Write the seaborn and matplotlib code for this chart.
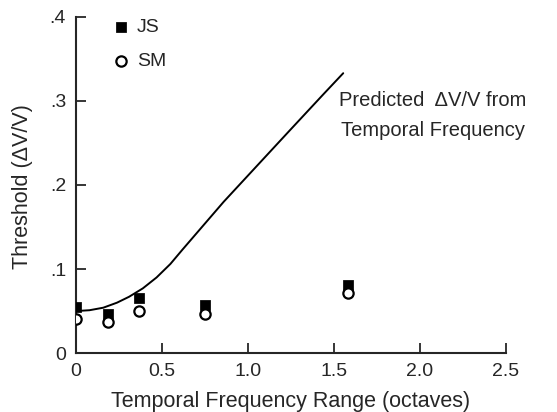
import numpy as np
import pandas as pd
import seaborn as sns
import matplotlib.pyplot as plt

# frequency range in octaves for each condition
octaves = [0.0, 0.19, 0.37, 0.75, 1.58]
js_thresh = [0.055, 0.046, 0.066, 0.057, 0.081]
sm_thresh = [0.041, 0.037, 0.050, 0.047, 0.072]

# predicted curve
pred_x = [0.0, 0.08, 0.16, 0.24, 0.31, 0.39, 0.47, 0.55, 0.62, 0.70, 0.78, 0.86,
          1.05, 1.24, 1.44, 1.555]
pred_y = [0.050, 0.051, 0.054, 0.060, 0.067, 0.077, 0.090, 0.106, 0.123, 0.142, 0.161,
          0.180, 0.222, 0.264, 0.308, 0.333]

x_ticks = [0, 0.5, 1.0, 1.5, 2.0, 2.5]
x_ticklabels = ['0', '0.5', '1.0', '1.5', '2.0', '2.5']
y_ticks = [0, 0.1, 0.2, 0.3, 0.4]
y_ticklabels = ['0', '.1', '.2', '.3', '.4']

sns.set_style('ticks')
plt.rcParams['font.family'] = ['Liberation Sans', 'DejaVu Sans']

pts = pd.DataFrame({'x': octaves, 'JS': js_thresh, 'SM': sm_thresh})
curve = pd.DataFrame({'x': pred_x, 'y': pred_y})

fig = plt.figure(figsize=(5.57, 4.12), dpi=100)
ax = fig.add_axes([0.136, 0.143, 0.772, 0.816])

sns.lineplot(data=curve, x='x', y='y', ax=ax, color='black', linewidth=1.4, sort=True)
sns.scatterplot(data=pts, x='x', y='JS', ax=ax, marker='s', s=45, color='black',
                edgecolor='black', label='JS', zorder=3)
sns.scatterplot(data=pts, x='x', y='SM', ax=ax, marker='o', s=55, facecolor='white',
                edgecolor='black', linewidth=1.6, label='SM', zorder=4)

ax.set_xlim(0, 2.5)
ax.set_ylim(0, 0.4)
ax.set_xticks(x_ticks)
ax.set_xticklabels(x_ticklabels)
ax.set_yticks(y_ticks)
ax.set_yticklabels(y_ticklabels)
ax.tick_params(direction='in', length=7, width=1.3, labelsize=14, pad=7)
for s in ['top', 'right']:
    ax.spines[s].set_visible(False)
for s in ['left', 'bottom']:
    ax.spines[s].set_linewidth(1.5)

ax.set_xlabel('Temporal Frequency Range (octaves)', fontsize=15.5)
ax.set_ylabel('Threshold (ΔV/V)', fontsize=15.5)
ax.xaxis.set_label_coords(0.5, -0.112)
ax.yaxis.set_label_coords(-0.10, 0.494)

ax.text(2.075, 0.301, 'Predicted  ΔV/V from', ha='center', va='center', fontsize=14.5)
ax.text(2.075, 0.265, 'Temporal Frequency', ha='center', va='center', fontsize=14.5)

leg = ax.legend(loc='upper left', bbox_to_anchor=(0.043, 1.048), frameon=False, fontsize=14,
                handletextpad=0.3, labelspacing=0.85, handlelength=1.0)

plt.savefig('out.png', dpi=100)
